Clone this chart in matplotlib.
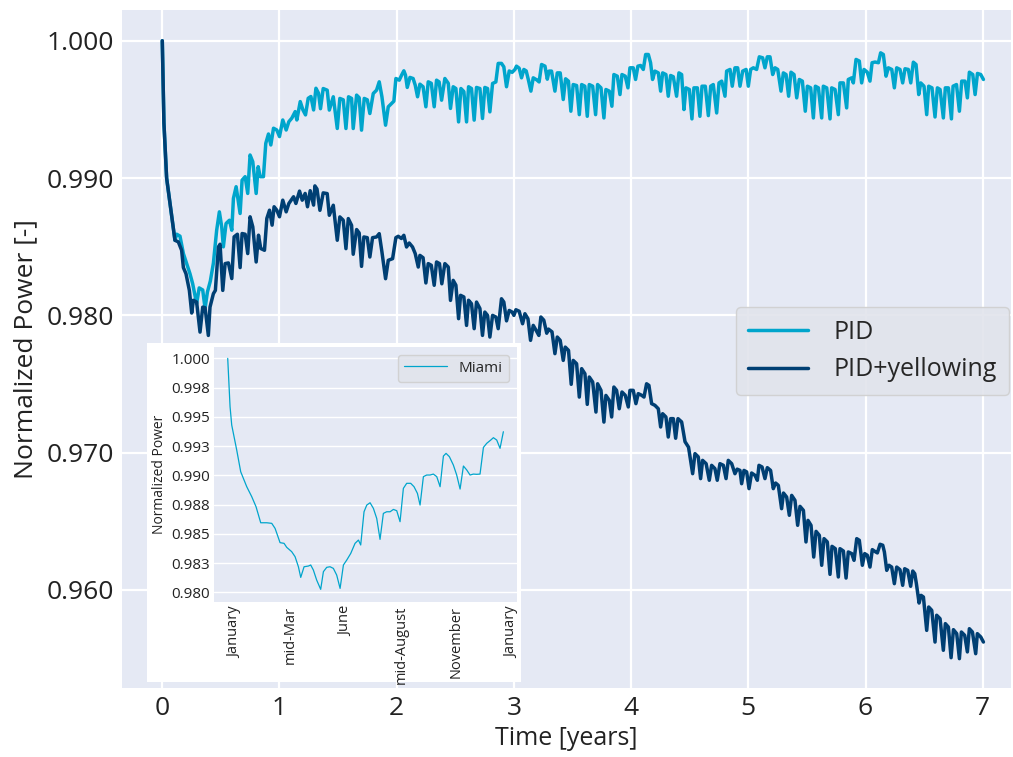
import matplotlib
matplotlib.use("Agg")
import matplotlib.pyplot as plt
import seaborn as sns

sns.set_style("darkgrid")
plt.rcParams['font.family'] = ['Open Sans', 'DejaVu Sans']

# PID curve (time in years, normalized power)
pid_t = [0.000, 0.014, 0.037, 0.066, 0.108, 0.123, 0.151, 0.180, 0.208, 0.236,
         0.259, 0.293, 0.315, 0.345, 0.365, 0.385, 0.410, 0.436, 0.464, 0.487,
         0.507, 0.521, 0.544, 0.573, 0.593, 0.607, 0.630, 0.664, 0.681, 0.707,
         0.729, 0.749, 0.772, 0.801, 0.818, 0.835, 0.863, 0.883, 0.906, 0.926,
         0.949, 0.977, 1.000, 1.028, 1.057, 1.080, 1.105, 1.134, 1.148, 1.177,
         1.200, 1.222, 1.245, 1.268, 1.291, 1.311, 1.333, 1.350, 1.373, 1.407,
         1.425, 1.459, 1.493, 1.515, 1.544, 1.567, 1.589, 1.615, 1.629, 1.658,
         1.680, 1.700, 1.723, 1.749, 1.771, 1.800, 1.828, 1.851, 1.874, 1.905,
         1.928, 1.956, 1.976, 1.993, 2.022, 2.042, 2.061, 2.075, 2.090, 2.113,
         2.140, 2.158, 2.178, 2.198, 2.225, 2.249, 2.269, 2.295, 2.320, 2.340,
         2.362, 2.383, 2.411, 2.440, 2.459, 2.482, 2.505, 2.528, 2.548, 2.573,
         2.596, 2.613, 2.638, 2.661, 2.681, 2.710, 2.732, 2.752, 2.775, 2.795,
         2.818, 2.846, 2.866, 2.894, 2.914, 2.937, 2.960, 2.985, 3.009, 3.022,
         3.045, 3.065, 3.085, 3.105, 3.125, 3.145, 3.165, 3.195, 3.215, 3.236,
         3.265, 3.285, 3.300, 3.321, 3.350, 3.370, 3.395, 3.421, 3.441, 3.465,
         3.486, 3.506, 3.535, 3.558, 3.578, 3.605, 3.626, 3.643, 3.672, 3.697,
         3.714, 3.743, 3.768, 3.785, 3.814, 3.836, 3.853, 3.882, 3.905, 3.922,
         3.950, 3.973, 3.990, 4.018, 4.038, 4.058, 4.081, 4.104, 4.124, 4.147,
         4.166, 4.183, 4.203, 4.232, 4.252, 4.269, 4.297, 4.317, 4.337, 4.360,
         4.388, 4.408, 4.431, 4.451, 4.468, 4.497, 4.519, 4.536, 4.565, 4.587,
         4.605, 4.633, 4.659, 4.679, 4.701, 4.730, 4.750, 4.773, 4.801, 4.815,
         4.844, 4.863, 4.886, 4.909, 4.929, 4.952, 4.981, 5.000, 5.020, 5.043,
         5.071, 5.094, 5.122, 5.142, 5.162, 5.185, 5.208, 5.228, 5.251, 5.279,
         5.299, 5.322, 5.344, 5.364, 5.390, 5.413, 5.435, 5.461, 5.486, 5.504,
         5.532, 5.555, 5.572, 5.598, 5.626, 5.640, 5.669, 5.697, 5.711, 5.740,
         5.768, 5.782, 5.811, 5.839, 5.853, 5.882, 5.896, 5.919, 5.947, 5.967,
         5.987, 6.015, 6.038, 6.056, 6.081, 6.110, 6.129, 6.152, 6.175, 6.195,
         6.224, 6.246, 6.266, 6.294, 6.317, 6.337, 6.365, 6.386, 6.408, 6.431,
         6.454, 6.471, 6.499, 6.522, 6.539, 6.567, 6.593, 6.613, 6.636, 6.664,
         6.681, 6.707, 6.733, 6.747, 6.776, 6.801, 6.821, 6.849, 6.869, 6.886,
         6.915, 6.935, 6.955, 6.983, 7.006]
pid_p = [1.00000, 0.99400, 0.99000, 0.98815, 0.98547, 0.98591, 0.98577, 0.98450, 0.98377, 0.98304,
         0.98231, 0.98085, 0.98200, 0.98185, 0.98050, 0.98170, 0.98250, 0.98380, 0.98620, 0.98754,
         0.98645, 0.98499, 0.98669, 0.98693, 0.98620, 0.98852, 0.98937, 0.98742, 0.98985, 0.99010,
         0.98888, 0.99168, 0.99119, 0.98888, 0.99083, 0.99010, 0.99010, 0.99253, 0.99321, 0.99241,
         0.99363, 0.99350, 0.99302, 0.99423, 0.99350, 0.99411, 0.99436, 0.99484, 0.99423, 0.99557,
         0.99496, 0.99460, 0.99581, 0.99594, 0.99496, 0.99654, 0.99618, 0.99505, 0.99652, 0.99640,
         0.99495, 0.99592, 0.99361, 0.99580, 0.99570, 0.99361, 0.99592, 0.99580, 0.99361, 0.99604,
         0.99585, 0.99349, 0.99580, 0.99570, 0.99470, 0.99616, 0.99640, 0.99701, 0.99592, 0.99385,
         0.99519, 0.99543, 0.99560, 0.99725, 0.99713, 0.99750, 0.99781, 0.99750, 0.99660, 0.99733,
         0.99725, 0.99677, 0.99592, 0.99684, 0.99665, 0.99519, 0.99701, 0.99690, 0.99519, 0.99713,
         0.99700, 0.99567, 0.99725, 0.99690, 0.99507, 0.99665, 0.99652, 0.99409, 0.99652, 0.99630,
         0.99409, 0.99665, 0.99652, 0.99422, 0.99660, 0.99652, 0.99434, 0.99660, 0.99652, 0.99482,
         0.99689, 0.99700, 0.99835, 0.99835, 0.99810, 0.99665, 0.99780, 0.99770, 0.99791, 0.99815,
         0.99800, 0.99730, 0.99791, 0.99780, 0.99710, 0.99633, 0.99730, 0.99715, 0.99700, 0.99827,
         0.99815, 0.99720, 0.99779, 0.99779, 0.99633, 0.99766, 0.99766, 0.99572, 0.99723, 0.99706,
         0.99487, 0.99681, 0.99674, 0.99462, 0.99681, 0.99669, 0.99450, 0.99681, 0.99669, 0.99462,
         0.99681, 0.99657, 0.99438, 0.99645, 0.99633, 0.99523, 0.99754, 0.99742, 0.99608, 0.99754,
         0.99742, 0.99657, 0.99803, 0.99803, 0.99718, 0.99815, 0.99820, 0.99791, 0.99900, 0.99900,
         0.99840, 0.99718, 0.99779, 0.99766, 0.99633, 0.99766, 0.99754, 0.99596, 0.99747, 0.99738,
         0.99596, 0.99766, 0.99754, 0.99499, 0.99657, 0.99645, 0.99431, 0.99657, 0.99657, 0.99450,
         0.99669, 0.99669, 0.99455, 0.99669, 0.99681, 0.99474, 0.99693, 0.99706, 0.99596, 0.99779,
         0.99791, 0.99669, 0.99803, 0.99803, 0.99669, 0.99779, 0.99791, 0.99669, 0.99791, 0.99803,
         0.99791, 0.99883, 0.99876, 0.99803, 0.99883, 0.99883, 0.99754, 0.99803, 0.99791, 0.99633,
         0.99766, 0.99754, 0.99596, 0.99771, 0.99754, 0.99584, 0.99718, 0.99706, 0.99487, 0.99669,
         0.99657, 0.99438, 0.99669, 0.99657, 0.99438, 0.99669, 0.99657, 0.99431, 0.99657, 0.99645,
         0.99462, 0.99693, 0.99693, 0.99511, 0.99718, 0.99730, 0.99693, 0.99864, 0.99852, 0.99693,
         0.99791, 0.99771, 0.99706, 0.99840, 0.99845, 0.99840, 0.99912, 0.99900, 0.99742, 0.99803,
         0.99791, 0.99657, 0.99803, 0.99791, 0.99693, 0.99796, 0.99791, 0.99693, 0.99844, 0.99827,
         0.99608, 0.99693, 0.99669, 0.99462, 0.99669, 0.99657, 0.99445, 0.99657, 0.99645, 0.99438,
         0.99657, 0.99657, 0.99431, 0.99669, 0.99681, 0.99487, 0.99706, 0.99706, 0.99584, 0.99771,
         0.99754, 0.99608, 0.99762, 0.99754, 0.99718]

# PID + yellowing curve
yel_t = [0.000, 0.014, 0.037, 0.066, 0.108, 0.137, 0.165, 0.180, 0.202, 0.231,
         0.251, 0.265, 0.293, 0.322, 0.345, 0.365, 0.393, 0.407, 0.436, 0.453,
         0.479, 0.493, 0.516, 0.536, 0.564, 0.593, 0.613, 0.641, 0.664, 0.681,
         0.707, 0.729, 0.749, 0.772, 0.801, 0.821, 0.840, 0.872, 0.892, 0.915,
         0.937, 0.954, 0.977, 1.000, 1.028, 1.057, 1.080, 1.120, 1.140, 1.171,
         1.194, 1.219, 1.239, 1.262, 1.291, 1.302, 1.320, 1.345, 1.373, 1.407,
         1.425, 1.459, 1.493, 1.515, 1.544, 1.567, 1.587, 1.615, 1.629, 1.658,
         1.680, 1.700, 1.720, 1.749, 1.771, 1.794, 1.828, 1.851, 1.874, 1.905,
         1.928, 1.965, 1.993, 2.013, 2.040, 2.061, 2.084, 2.107, 2.135, 2.158,
         2.184, 2.198, 2.225, 2.249, 2.269, 2.295, 2.320, 2.340, 2.365, 2.385,
         2.411, 2.440, 2.459, 2.482, 2.505, 2.528, 2.545, 2.573, 2.596, 2.613,
         2.638, 2.661, 2.681, 2.710, 2.732, 2.752, 2.775, 2.795, 2.818, 2.846,
         2.866, 2.894, 2.914, 2.937, 2.960, 2.985, 3.000, 3.017, 3.045, 3.074,
         3.094, 3.120, 3.142, 3.165, 3.190, 3.213, 3.230, 3.255, 3.280, 3.295,
         3.325, 3.350, 3.370, 3.395, 3.421, 3.438, 3.466, 3.489, 3.506, 3.535,
         3.558, 3.578, 3.606, 3.626, 3.643, 3.672, 3.700, 3.714, 3.743, 3.768,
         3.785, 3.814, 3.834, 3.853, 3.876, 3.899, 3.922, 3.950, 3.976, 3.990,
         4.018, 4.041, 4.061, 4.090, 4.110, 4.132, 4.152, 4.175, 4.203, 4.232,
         4.252, 4.269, 4.297, 4.317, 4.337, 4.360, 4.380, 4.400, 4.431, 4.460,
         4.490, 4.525, 4.545, 4.573, 4.593, 4.610, 4.640, 4.667, 4.687, 4.715,
         4.735, 4.758, 4.787, 4.810, 4.829, 4.858, 4.886, 4.905, 4.929, 4.943,
         4.963, 4.986, 5.006, 5.028, 5.057, 5.077, 5.091, 5.117, 5.142, 5.162,
         5.190, 5.213, 5.233, 5.256, 5.284, 5.300, 5.327, 5.350, 5.370, 5.398,
         5.421, 5.441, 5.470, 5.492, 5.509, 5.535, 5.558, 5.578, 5.606, 5.626,
         5.646, 5.674, 5.697, 5.714, 5.742, 5.768, 5.782, 5.811, 5.834, 5.853,
         5.882, 5.902, 5.925, 5.947, 5.973, 5.993, 6.015, 6.038, 6.058, 6.087,
         6.101, 6.124, 6.147, 6.161, 6.181, 6.200, 6.223, 6.246, 6.266, 6.294,
         6.317, 6.334, 6.360, 6.385, 6.403, 6.420, 6.434, 6.457, 6.474, 6.494,
         6.522, 6.539, 6.565, 6.593, 6.607, 6.636, 6.664, 6.681, 6.707, 6.730,
         6.750, 6.778, 6.801, 6.818, 6.846, 6.869, 6.886, 6.912, 6.940, 6.954,
         6.983, 7.006]
yel_p = [1.00000, 0.99400, 0.99000, 0.98815, 0.98547, 0.98535, 0.98474, 0.98348, 0.98304, 0.98182,
         0.98017, 0.98110, 0.98097, 0.97878, 0.98060, 0.98056, 0.97854, 0.98060, 0.98158, 0.98182,
         0.98499, 0.98518, 0.98182, 0.98377, 0.98382, 0.98268, 0.98572, 0.98591, 0.98348, 0.98596,
         0.98591, 0.98450, 0.98718, 0.98645, 0.98389, 0.98584, 0.98487, 0.98474, 0.98706, 0.98766,
         0.98657, 0.98791, 0.98766, 0.98718, 0.98839, 0.98754, 0.98815, 0.98864, 0.98815, 0.98905,
         0.98839, 0.98888, 0.98791, 0.98908, 0.98803, 0.98943, 0.98920, 0.98765, 0.98892, 0.98887,
         0.98729, 0.98802, 0.98547, 0.98717, 0.98693, 0.98486, 0.98705, 0.98656, 0.98445, 0.98625,
         0.98600, 0.98357, 0.98571, 0.98566, 0.98425, 0.98566, 0.98571, 0.98595, 0.98462, 0.98267,
         0.98401, 0.98413, 0.98566, 0.98576, 0.98560, 0.98583, 0.98498, 0.98527, 0.98498, 0.98450,
         0.98352, 0.98437, 0.98420, 0.98236, 0.98377, 0.98365, 0.98219, 0.98389, 0.98377, 0.98230,
         0.98377, 0.98352, 0.98109, 0.98255, 0.98220, 0.97976, 0.98146, 0.98134, 0.97927, 0.98110,
         0.98085, 0.97903, 0.98097, 0.98050, 0.97854, 0.98024, 0.98000, 0.97842, 0.98000, 0.97988,
         0.97903, 0.98121, 0.98097, 0.97960, 0.98036, 0.98024, 0.98000, 0.98041, 0.98030, 0.97939,
         0.98012, 0.97975, 0.97818, 0.97927, 0.97890, 0.97854, 0.97988, 0.97965, 0.97870, 0.97900,
         0.97880, 0.97721, 0.97842, 0.97818, 0.97672, 0.97769, 0.97745, 0.97498, 0.97672, 0.97648,
         0.97405, 0.97612, 0.97575, 0.97352, 0.97551, 0.97515, 0.97296, 0.97502, 0.97454, 0.97223,
         0.97417, 0.97381, 0.97260, 0.97478, 0.97454, 0.97320, 0.97442, 0.97418, 0.97333, 0.97454,
         0.97454, 0.97357, 0.97430, 0.97418, 0.97405, 0.97502, 0.97490, 0.97357, 0.97345, 0.97320,
         0.97187, 0.97284, 0.97260, 0.97114, 0.97248, 0.97248, 0.97105, 0.97248, 0.97224, 0.97080,
         0.97040, 0.96847, 0.96993, 0.96969, 0.96811, 0.96944, 0.96920, 0.96799, 0.96908, 0.96884,
         0.96799, 0.96920, 0.96908, 0.96811, 0.96944, 0.96920, 0.96847, 0.96880, 0.96871, 0.96774,
         0.96871, 0.96860, 0.96738, 0.96852, 0.96835, 0.96799, 0.96908, 0.96896, 0.96811, 0.96891,
         0.96871, 0.96738, 0.96779, 0.96762, 0.96592, 0.96706, 0.96677, 0.96544, 0.96689, 0.96653,
         0.96471, 0.96609, 0.96580, 0.96350, 0.96507, 0.96471, 0.96240, 0.96427, 0.96398, 0.96180,
         0.96374, 0.96350, 0.96114, 0.96318, 0.96301, 0.96095, 0.96301, 0.96284, 0.96087, 0.96277,
         0.96265, 0.96216, 0.96374, 0.96362, 0.96180, 0.96265, 0.96253, 0.96167, 0.96294, 0.96277,
         0.96270, 0.96333, 0.96326, 0.96277, 0.96143, 0.96180, 0.96167, 0.96046, 0.96167, 0.96148,
         0.96034, 0.96155, 0.96143, 0.96027, 0.96138, 0.96119, 0.96046, 0.95905, 0.95961, 0.95949,
         0.95706, 0.95876, 0.95852, 0.95621, 0.95816, 0.95791, 0.95561, 0.95755, 0.95730, 0.95507,
         0.95711, 0.95682, 0.95500, 0.95694, 0.95670, 0.95549, 0.95718, 0.95694, 0.95536, 0.95682,
         0.95658, 0.95621]

# inset: first year in Miami (day of year, normalized power)
miami_day = [0, 3.1, 5.3, 11.9, 17.2, 25.2, 31.8, 37.5, 43.7, 51.6,
             58.3, 62.7, 65.8, 69.3, 74.6, 78.1, 84.7, 89.2, 93.6, 96.7,
             101.1, 106.8, 109.9, 113.4, 117.8, 123.1, 126.7, 131.1, 135.5, 139.9,
             144.3, 148.8, 153.2, 157.6, 162.9, 168.6, 173.1, 176.1, 180.5, 184.1,
             188.5, 192.9, 197.3, 201.7, 206.1, 210.5, 215.0, 219.4, 223.8, 228.2,
             232.6, 237.0, 242.3, 246.7, 251.2, 254.7, 259.1, 263.5, 267.9, 272.3,
             276.8, 281.2, 285.6, 289.1, 293.5, 298.8, 303.2, 307.7, 312.1, 316.5,
             320.9, 325.3, 329.7, 334.1, 338.6, 343.0, 348.3, 351.8, 356.2, 360.6,
             365.0]
miami_p = [1.00000, 0.99587, 0.99430, 0.99217, 0.99031, 0.98903, 0.98818, 0.98732, 0.98595, 0.98595,
           0.98590, 0.98547, 0.98490, 0.98425, 0.98419, 0.98385, 0.98348, 0.98305, 0.98219, 0.98128,
           0.98219, 0.98225, 0.98234, 0.98191, 0.98105, 0.98026, 0.98177, 0.98214, 0.98219, 0.98205,
           0.98148, 0.98034, 0.98234, 0.98276, 0.98333, 0.98419, 0.98447, 0.98405, 0.98689, 0.98746,
           0.98766, 0.98718, 0.98632, 0.98453, 0.98675, 0.98689, 0.98689, 0.98709, 0.98698, 0.98604,
           0.98889, 0.98932, 0.98932, 0.98903, 0.98846, 0.98746, 0.98989, 0.99003, 0.99003, 0.99011,
           0.98989, 0.98903, 0.99165, 0.99188, 0.99160, 0.99088, 0.99003, 0.98883, 0.99080, 0.99046,
           0.99003, 0.99011, 0.99009, 0.99011, 0.99239, 0.99274, 0.99302, 0.99322, 0.99302, 0.99231,
           0.99373]

main_yticks = [0.96, 0.97, 0.98, 0.99, 1.00]
inset_yticks = [0.98, 0.9825, 0.985, 0.9875, 0.99, 0.9925, 0.995, 0.9975, 1.0]
inset_ylabels = ['0.980', '0.983', '0.985', '0.988', '0.990', '0.993', '0.995', '0.998', '1.000']
inset_xticks = [9.7, 82.9, 156.1, 229.3, 302.5, 375.7]
inset_xlabels = ['January', 'mid-Mar', 'June', 'mid-August', 'November', 'January']

c_pid = '#00a5cc'
c_yel = '#003f73'
bg = '#e5e9f4'

fig = plt.figure(figsize=(10.13, 7.57), dpi=100)
fig.patch.set_facecolor('white')

ax = fig.add_axes([0.1204, 0.0911, 0.8776, 0.8957])
ax.set_facecolor(bg)
ax.plot(pid_t, pid_p, color=c_pid, lw=2.5, label='PID')
ax.plot(yel_t, yel_p, color=c_yel, lw=2.5, label='PID+yellowing')
ax.set_xlim(-0.344, 7.241)
ax.set_ylim(0.95286, 1.00224)
ax.set_xticks(range(8))
ax.set_yticks(main_yticks)
ax.set_yticklabels(['%.3f' % v for v in main_yticks])
ax.tick_params(labelsize=19, length=0, pad=6, colors='#222222')
ax.grid(color='white', lw=1.6)
for s in ax.spines.values():
    s.set_visible(False)
ax.set_xlabel('Time [years]', fontsize=18, color='#222222', labelpad=3)
ax.set_ylabel('Normalized Power [-]', fontsize=19, color='#222222', labelpad=6)
ax.legend(loc='center right', bbox_to_anchor=(0.996, 0.5363), bbox_transform=fig.transFigure,
          fontsize=18, borderaxespad=0, facecolor='#e1e4ec', edgecolor='#cfcfcf',
          framealpha=0.9, handlelength=2.4, handletextpad=1.0, borderpad=0.5)

# white card behind the inset
card = fig.add_axes([0.1451, 0.0991, 0.3692, 0.4478], zorder=3)
card.set_facecolor('white')
card.set_xticks([])
card.set_yticks([])
for s in card.spines.values():
    s.set_visible(False)

axi = fig.add_axes([0.2113, 0.2051, 0.2988, 0.3365], zorder=4)
axi.set_facecolor(bg)
axi.plot(miami_day, miami_p, color=c_pid, lw=0.9, label='Miami')
axi.set_xlim(-18.1, 382.7)
axi.set_ylim(0.97920, 1.00097)
axi.set_yticks(inset_yticks)
axi.set_yticklabels(inset_ylabels)
axi.set_xticks(inset_xticks)
axi.set_xticklabels(inset_xlabels, rotation=90)
axi.tick_params(axis='y', labelsize=11, length=0, pad=3, colors='#222222')
axi.tick_params(axis='x', labelsize=10.5, length=0, pad=3, colors='#222222')
axi.grid(False)
axi.grid(axis='y', color='white', lw=1.0)
for s in axi.spines.values():
    s.set_visible(False)
axi.set_ylabel('Normalized Power', fontsize=10, color='#222222', labelpad=3)
axi.legend(loc='upper right', fontsize=11, facecolor='#e1e4ec', edgecolor='#cfcfcf',
           framealpha=0.9, handlelength=2.8)

fig.savefig('out.png', dpi=100)
